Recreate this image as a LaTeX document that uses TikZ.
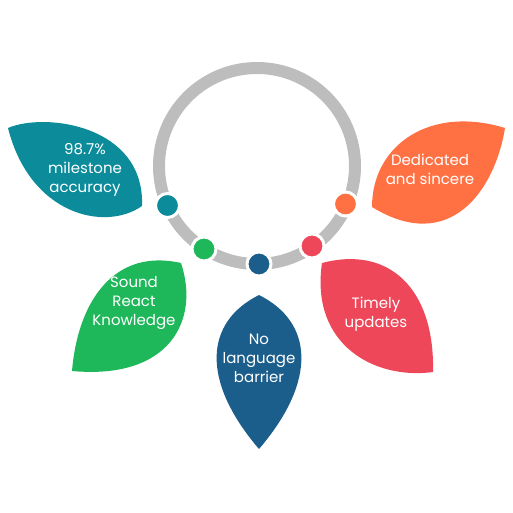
\documentclass[tikz,border=0pt]{standalone}
\usepackage{fontspec}
\setmainfont{Poppins}
\definecolor{cteal}{RGB}{12,140,154}
\definecolor{corange}{RGB}{255,113,67}
\definecolor{cgreen}{RGB}{30,183,90}
\definecolor{cblue}{RGB}{27,94,139}
\definecolor{cred}{RGB}{238,71,90}
\definecolor{cring}{RGB}{189,189,189}
\tikzset{
  leaftext/.style={text=white, align=center, font=\fontsize{15}{19}\selectfont, inner sep=0pt},
  dot/.style={circle, draw=white, line width=3pt, minimum size=24pt, inner sep=0pt},
}
\begin{document}
\begin{tikzpicture}[x=1pt,y=-1pt]
\useasboundingbox (0,0) rectangle (513,512);
% ring
\coordinate (c) at (257,166);
\draw[cring, line width=12pt] (c) circle[radius=98];
% dots
\node[dot, fill=cteal]   (d1) at (167.5,205.5) {};
\node[dot, fill=cgreen]  (d2) at (204,249) {};
\node[dot, fill=cblue]   (d3) at (259,264) {};
\node[dot, fill=cred]    (d4) at (312,246) {};
\node[dot, fill=corange] (d5) at (345.5,204) {};
% leaves
\fill[cteal] (8,128) .. controls (45,112) and (145,125) .. (142,206) .. controls (105,232) and (30,215) .. cycle;
\fill[corange] (372,207) .. controls (372,145) and (430,105) .. (505,128) .. controls (495,190) and (450,255) .. cycle;
\fill[cgreen] (72,371) .. controls (78,300) and (115,248) .. (181,263) .. controls (200,320) and (170,380) .. cycle;
\fill[cblue] (259,295) .. controls (205,322) and (200,380) .. (259,449) .. controls (318,380) and (313,322) .. cycle;
\fill[cred] (322,263) .. controls (390,245) and (435,290) .. (433,372) .. controls (375,380) and (310,345) .. cycle;
% texts
\node[leaftext] (t1) at (85,170) {98.7\%\\milestone\\accuracy};
\node[leaftext] (t2) at (430,169.5) {Dedicated\\and sincere};
\node[leaftext] (t3) at (134,303) {Sound\\React\\Knowledge};
\node[leaftext] (t4) at (259,358) {No\\language\\barrier};
\node[leaftext] (t5) at (376,314.5) {Timely\\updates};
\end{tikzpicture}
\end{document}
